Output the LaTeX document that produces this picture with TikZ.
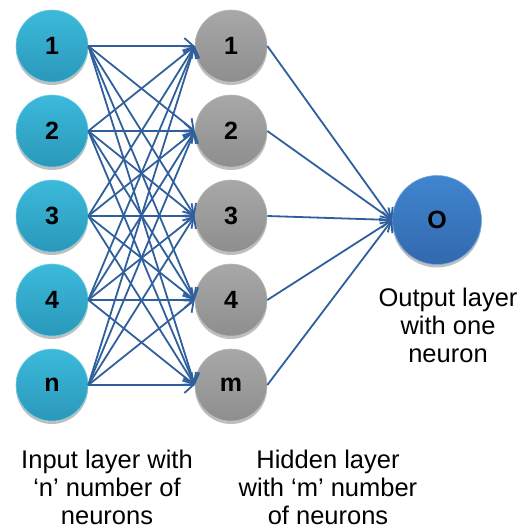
\documentclass[tikz,border=0pt]{standalone}
\usepackage{fontspec}
\setmainfont{Liberation Sans}
\usetikzlibrary{arrows.meta,shadows}
\definecolor{edgeblue}{HTML}{2F5F9C}
\definecolor{inTop}{HTML}{3CBADB}
\definecolor{inBot}{HTML}{2A98BA}
\definecolor{hidTop}{HTML}{A8A8A8}
\definecolor{hidBot}{HTML}{8E8E8E}
\definecolor{outTop}{HTML}{3F86CF}
\definecolor{outBot}{HTML}{3368AD}
\tikzset{
  neuron/.style={circle, inner sep=0pt, minimum size=72pt, font=\fontsize{25}{27}\selectfont\bfseries,
    drop shadow={shadow xshift=0pt, shadow yshift=-3pt, opacity=0.25, fill=black}},
  innode/.style={neuron, top color=inTop, bottom color=inBot, draw=inTop!70!white, line width=0.6pt},
  hidnode/.style={neuron, top color=hidTop, bottom color=hidBot, draw=hidTop!80!white, line width=0.6pt},
  outnode/.style={neuron, minimum size=89pt, top color=outTop, bottom color=outBot, draw=outTop!70!white, line width=0.6pt},
  conn/.style={draw=edgeblue, line width=1.8pt, -{Straight Barb[length=9pt,width=16pt,line width=1.8pt]}},
  lbl/.style={align=center, font=\fontsize{25.5}{28}\selectfont}
}
\begin{document}
\begin{tikzpicture}[x=1pt,y=-1pt]
\useasboundingbox (0,0) rectangle (524,530);
\node[innode] (i1) at (52,46) {1};
\node[innode] (i2) at (52,131) {2};
\node[innode] (i3) at (52,216) {3};
\node[innode] (i4) at (52,300) {4};
\node[innode] (i5) at (52,385) {n};
\node[hidnode] (h1) at (231,46) {1};
\node[hidnode] (h2) at (231,131) {2};
\node[hidnode] (h3) at (231,216) {3};
\node[hidnode] (h4) at (231,300) {4};
\node[hidnode] (h5) at (231,385) {m};
\node[outnode] (o) at (437,220) {O};
\foreach \a in {1,...,5}{
  \foreach \b in {1,...,5}{
    \draw[conn] (i\a.east) -- (h\b.west);
  }
  \draw[conn] (h\a.east) -- (o.west);
}
\node[lbl] (lo) at (448,325) {Output layer\\with one\\neuron};
\node[lbl] (li) at (107,487) {Input layer with\\‘n’ number of\\neurons};
\node[lbl] (lh) at (328,487) {Hidden layer\\with ‘m’ number\\of neurons};
\end{tikzpicture}
\end{document}
